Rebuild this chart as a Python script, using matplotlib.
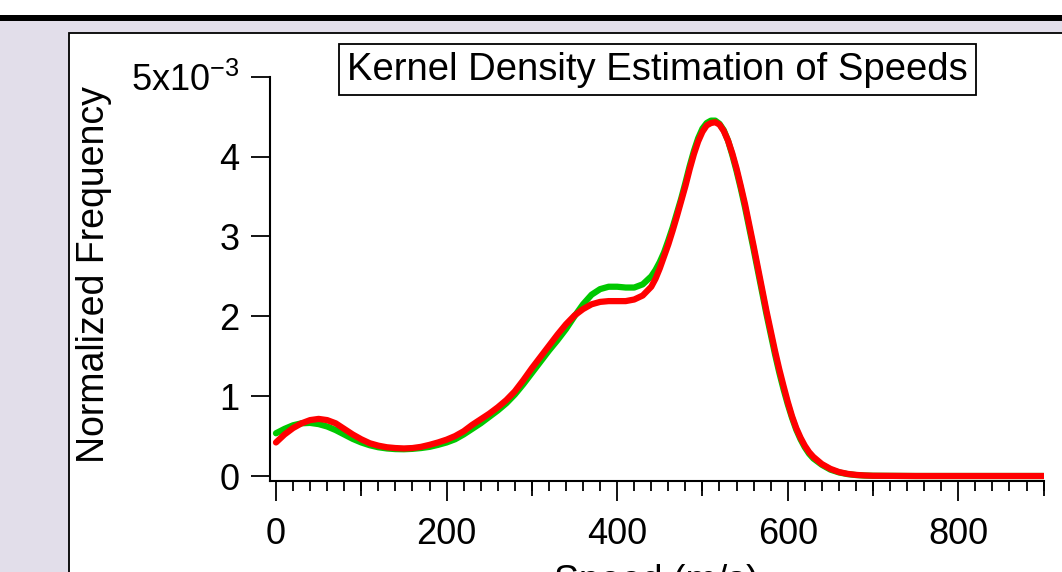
import numpy as np
import matplotlib
matplotlib.use("Agg")
import matplotlib.pyplot as plt
from matplotlib.patches import Rectangle
from matplotlib.ticker import FixedLocator, MultipleLocator

plt.rcParams['font.family'] = ['Liberation Sans', 'DejaVu Sans']
plt.rcParams['mathtext.default'] = 'regular'

# ---------------- data ----------------
speed = [0, 10, 20, 30, 40, 50, 60, 70, 80, 90,
         100, 110, 120, 130, 140, 150, 160, 170, 180, 190,
         200, 210, 220, 230, 240, 250, 260, 270, 280, 290,
         300, 310, 320, 330, 340, 350, 360, 370, 380, 390,
         400, 410, 420, 430, 440, 445, 450, 455, 460, 465,
         470, 475, 480, 485, 490, 495, 500, 505, 510, 515,
         520, 525, 530, 535, 540, 545, 550, 555, 560, 565,
         570, 575, 580, 585, 590, 595, 600, 605, 610, 615,
         620, 625, 630, 640, 650, 660, 670, 680, 690, 700,
         750, 800, 850, 900]

green_freq_e3 = [0.535, 0.59, 0.635, 0.66, 0.665, 0.65, 0.62, 0.575, 0.52, 0.465,
                 0.42, 0.385, 0.36, 0.345, 0.337, 0.335, 0.34, 0.35, 0.365, 0.39,
                 0.42, 0.46, 0.52, 0.59, 0.66, 0.74, 0.82, 0.91, 1.02, 1.15,
                 1.29, 1.43, 1.57, 1.70, 1.84, 2.00, 2.15, 2.27, 2.34, 2.37,
                 2.37, 2.36, 2.36, 2.40, 2.50, 2.58, 2.68, 2.80, 2.95, 3.11,
                 3.29, 3.47, 3.67, 3.88, 4.07, 4.23, 4.35, 4.42, 4.45, 4.45,
                 4.41, 4.33, 4.20, 4.02, 3.82, 3.60, 3.36, 3.10, 2.84, 2.57,
                 2.30, 2.03, 1.78, 1.53, 1.30, 1.09, 0.90, 0.73, 0.58, 0.46,
                 0.36, 0.28, 0.22, 0.14, 0.08, 0.045, 0.024, 0.012, 0.006, 0.003,
                 0.0, 0.0, 0.0, 0.0]

red_freq_e3 = [0.42, 0.52, 0.60, 0.66, 0.70, 0.715, 0.70, 0.66, 0.59, 0.52,
               0.46, 0.41, 0.38, 0.36, 0.35, 0.345, 0.35, 0.365, 0.39, 0.42,
               0.455, 0.50, 0.56, 0.64, 0.71, 0.78, 0.86, 0.95, 1.06, 1.20,
               1.35, 1.49, 1.63, 1.77, 1.90, 2.01, 2.09, 2.15, 2.18, 2.19,
               2.19, 2.19, 2.21, 2.26, 2.37, 2.47, 2.60, 2.75, 2.90, 3.07,
               3.25, 3.44, 3.63, 3.84, 4.03, 4.19, 4.31, 4.39, 4.42, 4.43,
               4.40, 4.32, 4.20, 4.04, 3.85, 3.63, 3.40, 3.14, 2.88, 2.61,
               2.34, 2.07, 1.82, 1.57, 1.34, 1.13, 0.93, 0.75, 0.60, 0.48,
               0.38, 0.30, 0.24, 0.15, 0.09, 0.05, 0.027, 0.014, 0.007, 0.003,
               0.0, 0.0, 0.0, 0.0]

green_freq = np.array(green_freq_e3) * 1e-3
red_freq = np.array(red_freq_e3) * 1e-3

title_text = "Kernel Density Estimation of Speeds"
x_label = "Speed (m/s)"
y_label = "Normalized Frequency"
x_major_ticks = [0, 200, 400, 600, 800]
x_major_labels = ["0", "200", "400", "600", "800"]
x_mid_ticks = [100, 300, 500, 700, 900]
y_ticks = [0, 1e-3, 2e-3, 3e-3, 4e-3, 5e-3]
y_tick_labels = ["0", "1", "2", "3", "4", "5x10$^{-3}$"]

# ---------------- figure ----------------
W, H = 1062, 572
fig = plt.figure(figsize=(W / 100, H / 100), dpi=100)
fig.patch.set_facecolor('white')

def fx(px):
    return px / W

def fy(py):
    return 1 - py / H

tf = fig.transFigure
fig.add_artist(Rectangle((0, 0), 1, fy(20.5), transform=tf,
                         facecolor='#e2deea', edgecolor='none', zorder=-3))
fig.add_artist(Rectangle((0, fy(20.5)), 1, 5.5 / H, transform=tf,
                         facecolor='black', edgecolor='none', zorder=-2))
fig.add_artist(Rectangle((fx(69), -0.1), 1.2, fy(33) + 0.1, transform=tf,
                         facecolor='white', edgecolor='black', lw=1.3, zorder=-1))

ax_l, ax_r, ax_t, ax_b = 269.5, 1043.6, 76.7, 480.5
ax = fig.add_axes([fx(ax_l), fy(ax_b), (ax_r - ax_l) / W, (ax_b - ax_t) / H])
ax.patch.set_alpha(0)

ax.plot(speed, green_freq, color='#00c800', lw=4.5, solid_capstyle='round',
        solid_joinstyle='round', zorder=3)
ax.plot(speed, red_freq, color='#ff0000', lw=4.5, solid_capstyle='round',
        solid_joinstyle='round', zorder=4)

ax.set_xlim(-7.6, 900)
ax.set_ylim(-0.0563e-3, 5e-3)

for s in ['top', 'right']:
    ax.spines[s].set_visible(False)
for s in ['left', 'bottom']:
    ax.spines[s].set_linewidth(1.5)

ax.xaxis.set_major_locator(FixedLocator(x_major_ticks))
ax.set_xticklabels(x_major_labels)
ax.xaxis.set_minor_locator(MultipleLocator(20))
ax.tick_params(axis='x', which='major', direction='out', length=14.4, width=1.3,
               labelsize=26, pad=12)
ax.tick_params(axis='x', which='minor', direction='out', length=7.2, width=1.3)

sec = ax.secondary_xaxis('bottom')
sec.set_xticks(x_mid_ticks)
sec.tick_params(axis='x', direction='out', length=10.8, width=1.3, labelbottom=False)
sec.spines['bottom'].set_visible(False)

ax.yaxis.set_major_locator(FixedLocator(y_ticks))
ax.set_yticklabels(y_tick_labels)
ax.tick_params(axis='y', which='major', direction='out', length=13.7, width=1.3,
               labelsize=26, pad=8)
ax.yaxis.set_minor_locator(plt.NullLocator())

fig.text(fx(94), fy(275), y_label, rotation=90, ha='center', va='center', fontsize=27)
fig.text(fx(656), fy(564), x_label, ha='center', va='top', fontsize=27)
fig.text(fx(657.5), fy(69.5), title_text, ha='center', va='center', fontsize=27.5,
         bbox=dict(boxstyle='square,pad=0.2', facecolor='white', edgecolor='black', lw=1.3))

fig.savefig('out.png', dpi=100, facecolor=fig.get_facecolor())
